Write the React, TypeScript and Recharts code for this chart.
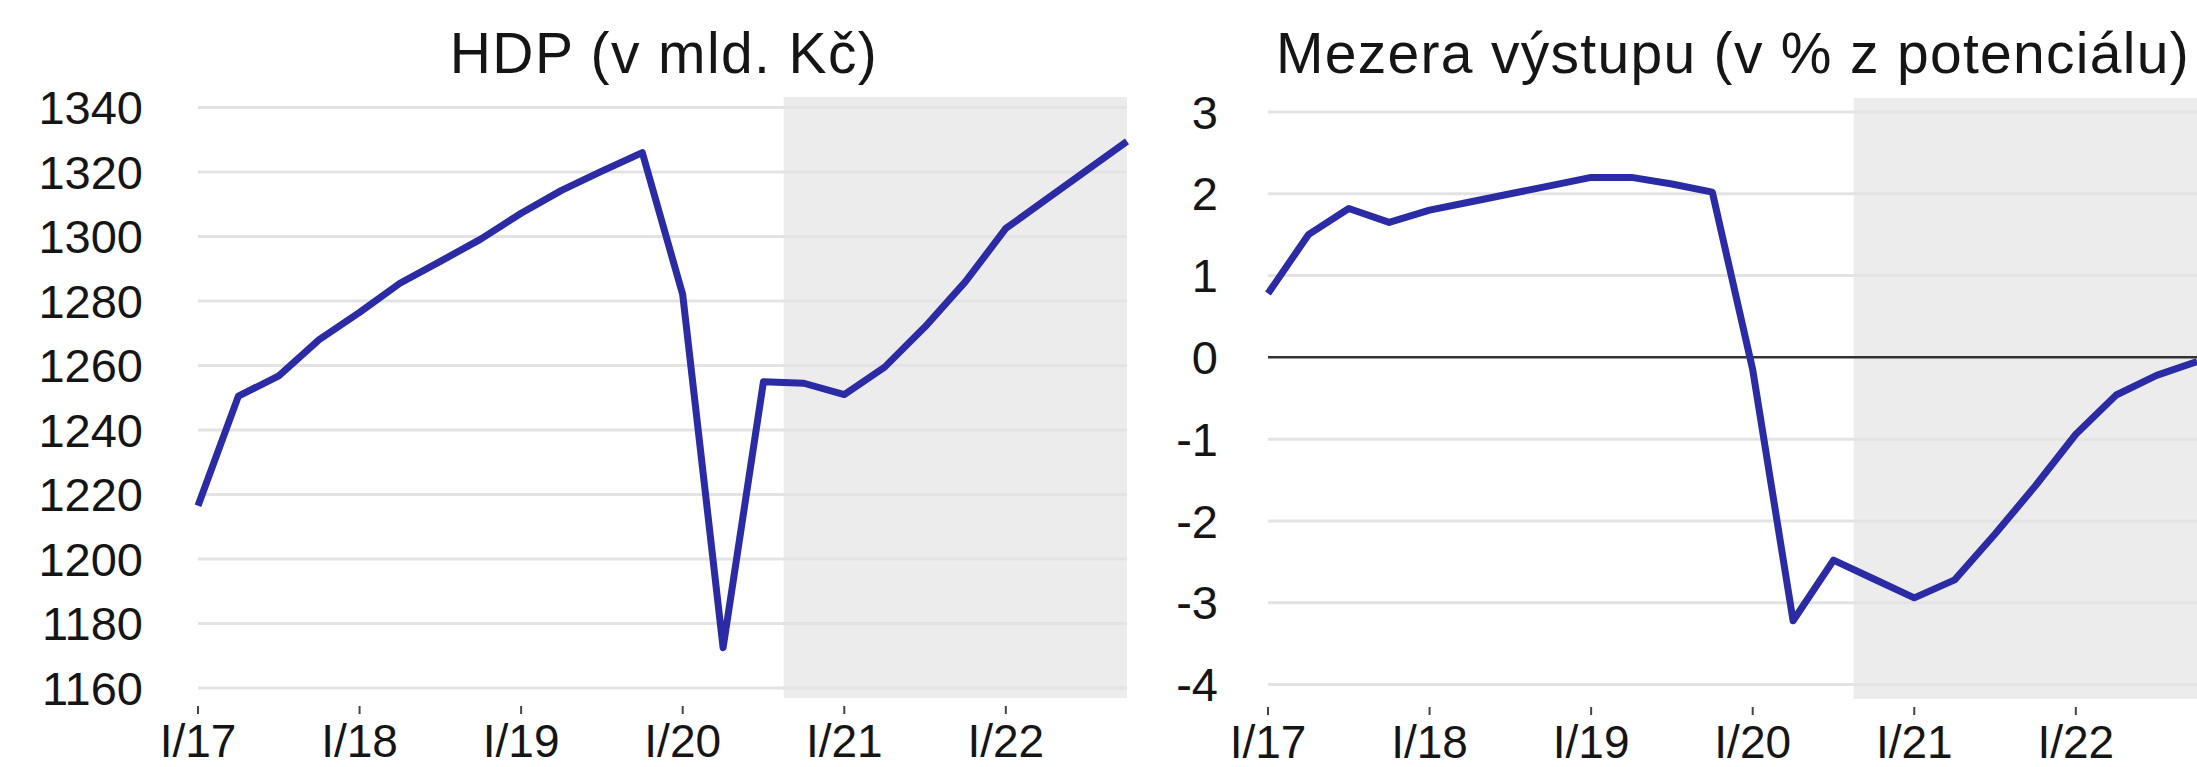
import { LineChart, Line, XAxis, YAxis, ReferenceArea, ReferenceLine } from "recharts"

const quarters = [
  "I/17", "II/17", "III/17", "IV/17",
  "I/18", "II/18", "III/18", "IV/18",
  "I/19", "II/19", "III/19", "IV/19",
  "I/20", "II/20", "III/20", "IV/20",
  "I/21", "II/21", "III/21", "IV/21",
  "I/22", "II/22", "III/22", "IV/22",
]

// HDP v mld. Kč
const hdp = [
  1216.5, 1250.5, 1256.8, 1268, 1276.5, 1285.5, 1292.3, 1299.2,
  1307.2, 1314.3, 1320.3, 1326, 1282, 1172.5, 1255, 1254.5,
  1251, 1259.5, 1272, 1286, 1302.5, 1311.5, 1320.5, 1329.5,
]

// mezera výstupu v % z potenciálu
const gap = [
  0.78, 1.5, 1.82, 1.65, 1.8, 1.9, 2.0, 2.1,
  2.2, 2.2, 2.12, 2.02, -0.15, -3.22, -2.48, -2.71,
  -2.94, -2.72, -2.16, -1.57, -0.94, -0.46, -0.22, -0.05,
]

const yearTicks = [0, 4, 8, 12, 16, 20]
const yearLabels = ["I/17", "I/18", "I/19", "I/20", "I/21", "I/22"]
const hdpTicks = [1160, 1180, 1200, 1220, 1240, 1260, 1280, 1300, 1320, 1340]
const gapTicks = [-4, -3, -2, -1, 0, 1, 2, 3]
const forecastStart = 14.5
const forecastEnd = 23

const data = quarters.map((q, i) => ({ i, q, hdp: hdp[i], gap: gap[i] }))

const font = "'Liberation Sans', Arial, sans-serif"
const lineColor = "#2b2ba6"
const gridColor = "#e3e3e3"

function YearTick(props: any) {
  const { x, y, payload } = props
  const label = yearLabels[yearTicks.indexOf(payload.value)]
  return (
    <g>
      <line x1={x} x2={x} y1={y + 8} y2={y + 16} stroke="#444" strokeWidth={2} />
      <text x={x} y={y + 59} textAnchor="middle" fontSize={46} fill="#151515" fontFamily={font}>
        {label}
      </text>
    </g>
  )
}

export default function App() {
  return (
    <div style={{ position: "fixed", left: 0, top: 0, width: 2197, height: 767, overflow: "hidden", background: "#fff" }}>
      <div style={{ position: "absolute", left: 0, top: 0 }}>
        <LineChart width={1140} height={767} data={data} margin={{ top: 97, right: 13, bottom: 0, left: 0 }}>
          {hdpTicks.map((v) => (
            <ReferenceLine key={v} y={v} stroke={gridColor} strokeWidth={3} />
          ))}
          <ReferenceArea x1={forecastStart} x2={forecastEnd} fill="#000" fillOpacity={0.075} stroke="none" />
          <XAxis
            dataKey="i"
            type="number"
            domain={[0, 23]}
            ticks={yearTicks}
            interval={0}
            height={69}
            tickSize={0}
            tickMargin={0}
            axisLine={false}
            tickLine={false}
            tick={<YearTick />}
          />
          <YAxis
            type="number"
            domain={[1156.9, 1343.26]}
            ticks={hdpTicks}
            interval={0}
            width={198}
            tickSize={0}
            tickMargin={55}
            axisLine={false}
            tickLine={false}
            tick={{ fill: "#151515", fontSize: 47, fontFamily: font }}
          />
          <Line
            type="linear"
            dataKey="hdp"
            stroke={lineColor}
            strokeWidth={7}
            strokeLinejoin="round"
            dot={false}
            isAnimationActive={false}
          />
        </LineChart>
      </div>
      <div style={{ position: "absolute", left: 1140, top: 0 }}>
        <LineChart width={1060} height={767} data={data} margin={{ top: 98, right: 3, bottom: 0, left: 0 }}>
          {gapTicks.filter((v) => v !== 0).map((v) => (
            <ReferenceLine key={v} y={v} stroke={gridColor} strokeWidth={3} />
          ))}
          <ReferenceArea x1={forecastStart} x2={forecastEnd} fill="#000" fillOpacity={0.075} stroke="none" />
          <XAxis
            dataKey="i"
            type="number"
            domain={[0, 23]}
            ticks={yearTicks}
            interval={0}
            height={68}
            tickSize={0}
            tickMargin={0}
            axisLine={false}
            tickLine={false}
            tick={<YearTick />}
          />
          <YAxis
            type="number"
            domain={[-4.177, 3.171]}
            ticks={gapTicks}
            interval={0}
            width={128}
            tickSize={0}
            tickMargin={50}
            axisLine={false}
            tickLine={false}
            tick={{ fill: "#151515", fontSize: 47, fontFamily: font }}
          />
          <ReferenceLine y={0} stroke="#333" strokeWidth={2.5} />
          <Line
            type="linear"
            dataKey="gap"
            stroke={lineColor}
            strokeWidth={7}
            strokeLinejoin="round"
            dot={false}
            isAnimationActive={false}
          />
        </LineChart>
      </div>
      <svg width={2197} height={767} style={{ position: "absolute", left: 0, top: 0, pointerEvents: "none" }}>
        <text x={664} y={73} textAnchor="middle" fontSize={57} letterSpacing={1.4} fill="#151515" fontFamily={font}>
          HDP (v mld. Kč)
        </text>
        <text x={1733} y={73} textAnchor="middle" fontSize={57} letterSpacing={1.3} fill="#151515" fontFamily={font}>
          Mezera výstupu (v % z potenciálu)
        </text>
      </svg>
    </div>
  )
}
